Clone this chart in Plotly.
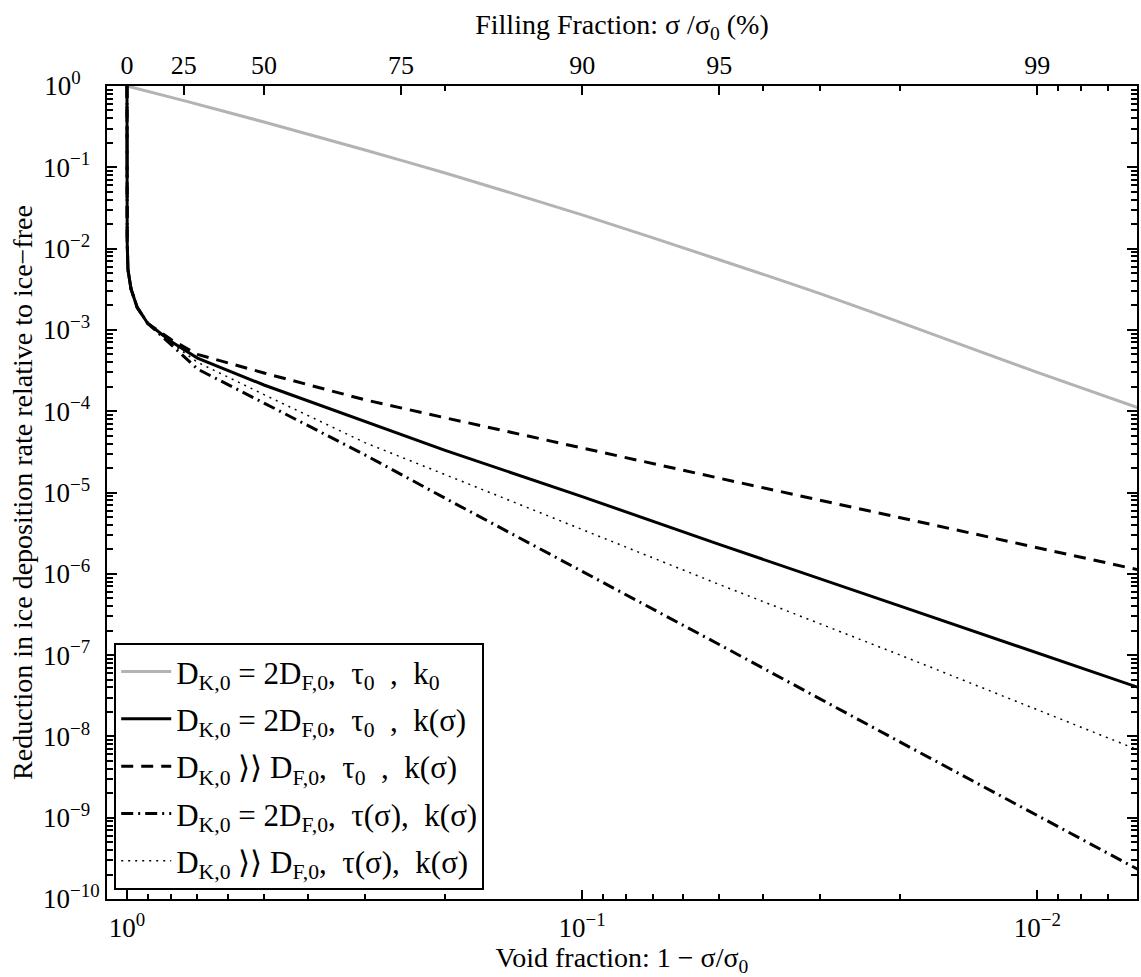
import plotly.graph_objects as go

# Void fraction (1 - sigma/sigma0) sample points
void_gray = [1.0, 0.75, 0.5, 0.3, 0.2, 0.1, 0.05, 0.03, 0.02, 0.01, 0.006]
void_black = [1.0, 0.9999, 0.999, 0.995, 0.98, 0.95, 0.9,
              0.8, 0.7, 0.5, 0.3, 0.2, 0.1, 0.05, 0.02, 0.01, 0.006]

# Relative deposition rate for each model case
rate_k0 = [1.0, 0.66, 0.36, 0.163, 0.085, 0.026, 0.0073, 0.0028, 0.00124, 3.0e-4, 1.1e-4]
rate_tau0_2DF = [1.0, 0.05, 0.012, 0.0055, 0.0032, 0.0019, 0.0012,
                 7.2e-4, 4.5e-4, 2.1e-4, 7.4e-5, 3.3e-5, 8.9e-6, 2.3e-6, 4.0e-7, 1.07e-7, 4.0e-8]
rate_tau0_bigDK = [1.0, 0.05, 0.012, 0.0055, 0.0032, 0.0019, 0.0012,
                   7.6e-4, 5.0e-4, 2.95e-4, 1.38e-4, 8.3e-5, 3.5e-5, 1.5e-5, 4.9e-6, 2.1e-6, 1.12e-6]
rate_tau_2DF = [1.0, 0.05, 0.012, 0.0055, 0.0032, 0.0019, 0.0012,
                6.6e-4, 3.3e-4, 1.26e-4, 2.9e-5, 8.5e-6, 1.07e-6, 1.35e-7, 8.5e-9, 1.05e-9, 2.3e-10]
rate_tau_bigDK = [1.0, 0.05, 0.012, 0.0055, 0.0032, 0.0019, 0.0012,
                  6.9e-4, 4.0e-4, 1.6e-4, 4.1e-5, 1.66e-5, 3.5e-6, 7.4e-7, 1.0e-7, 2.1e-8, 6.8e-9]

# Axis ticks
x_major = [1, 0.1, 0.01]
x_major_text = ["10<sup>0</sup>", "10<sup>\u22121</sup>", "10<sup>\u22122</sup>"]
x_minor = [0.9, 0.8, 0.7, 0.6, 0.5, 0.4, 0.3, 0.2,
           0.09, 0.08, 0.07, 0.06, 0.05, 0.04, 0.03, 0.02,
           0.009, 0.008, 0.007]
fill_major = [1, 0.75, 0.5, 0.25, 0.1, 0.05, 0.01]
fill_major_text = ["0", "25", "50", "75", "90", "95", "99"]
fill_minor = [0.2, 0.04, 0.03, 0.02, 0.009, 0.008, 0.007]
y_exps = list(range(0, -11, -1))
y_major = [10.0 ** e for e in y_exps]
y_minor = [m * 10.0 ** e for e in range(-10, 0) for m in range(2, 10)]

nb = "\u00a0"


def decade_label(e):
    # exponent labels padded so the "10" of every label starts at the same x
    exp = str(e).replace("-", "\u2212")
    pad = {1: 4, 2: 2}.get(len(exp), 0)
    return "10<sup>" + exp + nb * pad + "</sup>"


y_major_text = [decade_label(e) for e in y_exps]

names = [
    f"D<sub>K,0</sub>{nb}={nb}2D<sub>F,0</sub>,{nb}{nb}\u03c4<sub>0</sub>{nb}{nb},{nb}{nb}k<sub>0</sub>",
    f"D<sub>K,0</sub>{nb}={nb}2D<sub>F,0</sub>,{nb}{nb}\u03c4<sub>0</sub>{nb}{nb},{nb}{nb}k(\u03c3)",
    f"D<sub>K,0</sub>{nb}\u27e9\u27e9{nb}D<sub>F,0</sub>,{nb}{nb}\u03c4<sub>0</sub>{nb}{nb},{nb}{nb}k(\u03c3)",
    f"D<sub>K,0</sub>{nb}={nb}2D<sub>F,0</sub>,{nb}{nb}\u03c4(\u03c3),{nb}{nb}k(\u03c3)",
    f"D<sub>K,0</sub>{nb}\u27e9\u27e9{nb}D<sub>F,0</sub>,{nb}{nb}\u03c4(\u03c3),{nb}{nb}k(\u03c3)",
]

FONT = "Liberation Serif"
x_range = [0.0439, -2.219]
y_range = [-10, 0]

fig = go.Figure()
fig.add_trace(go.Scatter(x=void_gray, y=rate_k0, mode="lines", name=names[0], legendgroup="g1",
                         line=dict(color="#b3b3b3", width=3, shape="spline", smoothing=0.6)))
fig.add_trace(go.Scatter(x=void_black, y=rate_tau0_2DF, mode="lines", name=names[1], legendgroup="g2",
                         line=dict(color="black", width=3)))
fig.add_trace(go.Scatter(x=void_black, y=rate_tau0_bigDK, mode="lines", name=names[2], legendgroup="g3",
                         line=dict(color="black", width=3, dash="12px,8px")))
fig.add_trace(go.Scatter(x=void_black, y=rate_tau_2DF, mode="lines", name=names[3], legendgroup="g4",
                         line=dict(color="black", width=3, dash="12px,5px,2px,5px")))
fig.add_trace(go.Scatter(x=void_black, y=rate_tau_bigDK, mode="lines", name=names[4], legendgroup="g5",
                         line=dict(color="black", width=1.5, dash="2px,5px")))
# carrier for the top (filling fraction) and right axes
fig.add_trace(go.Scatter(x=[1], y=[1], xaxis="x2", yaxis="y2", mode="lines",
                         showlegend=False, hoverinfo="skip", line=dict(width=0)))

tick_font = dict(family=FONT, size=27, color="black")
title_font = dict(family=FONT, size=28, color="black")

fig.update_layout(
    width=1141, height=977,
    margin=dict(l=107, r=4, t=86, b=78),
    paper_bgcolor="white", plot_bgcolor="white",
    font=dict(family=FONT, size=27, color="black"),
    showlegend=True,
    legend=dict(x=0.007, y=0.315, xanchor="left", yanchor="top",
                bgcolor="white", bordercolor="black", borderwidth=2,
                font=dict(family=FONT, size=31, color="black"),
                tracegroupgap=4, itemwidth=50),
    xaxis=dict(type="log", range=x_range, showgrid=False, zeroline=False,
               showline=True, linecolor="black", linewidth=2, mirror=False,
               ticks="inside", ticklen=9, tickwidth=1.5, tickcolor="black",
               tickmode="array", tickvals=x_major, ticktext=x_major_text,
               tickfont=tick_font, ticklabelstandoff=4,
               minor=dict(ticks="inside", ticklen=5, tickwidth=1.5, tickcolor="black",
                          tickmode="array", tickvals=x_minor, showgrid=False),
               title=dict(text="Void fraction: 1 \u2212 \u03c3/\u03c3<sub>0</sub>",
                          font=title_font, standoff=6)),
    xaxis2=dict(type="log", range=x_range, overlaying="x", side="top", anchor="y",
                showgrid=False, zeroline=False,
                showline=True, linecolor="black", linewidth=2,
                ticks="inside", ticklen=9, tickwidth=1.5, tickcolor="black",
                tickmode="array", tickvals=fill_major, ticktext=fill_major_text,
                tickfont=dict(family=FONT, size=26, color="black"),
                minor=dict(ticks="inside", ticklen=5, tickwidth=1.5, tickcolor="black",
                           tickmode="array", tickvals=fill_minor, showgrid=False),
                title=dict(text="Filling Fraction: \u03c3 /\u03c3<sub>0</sub> (%)",
                           font=title_font, standoff=8)),
    yaxis=dict(type="log", range=y_range, showgrid=False, zeroline=False,
               showline=True, linecolor="black", linewidth=2,
               ticks="inside", ticklen=10, tickwidth=1.5, tickcolor="black",
               tickmode="array", tickvals=y_major, ticktext=y_major_text,
               tickfont=tick_font,
               minor=dict(ticks="inside", ticklen=6, tickwidth=1.5, tickcolor="black",
                          tickmode="array", tickvals=y_minor, showgrid=False),
               title=dict(text="Reduction in ice deposition rate relative to ice\u2212free",
                          font=title_font, standoff=2)),
    yaxis2=dict(type="log", range=y_range, overlaying="y", side="right", anchor="x",
                showgrid=False, zeroline=False,
                showline=True, linecolor="black", linewidth=2,
                ticks="inside", ticklen=10, tickwidth=1.5, tickcolor="black",
                tickmode="array", tickvals=y_major, showticklabels=False,
                minor=dict(ticks="inside", ticklen=6, tickwidth=1.5, tickcolor="black",
                           tickmode="array", tickvals=y_minor, showgrid=False)),
)

fig.write_html("out.html")
